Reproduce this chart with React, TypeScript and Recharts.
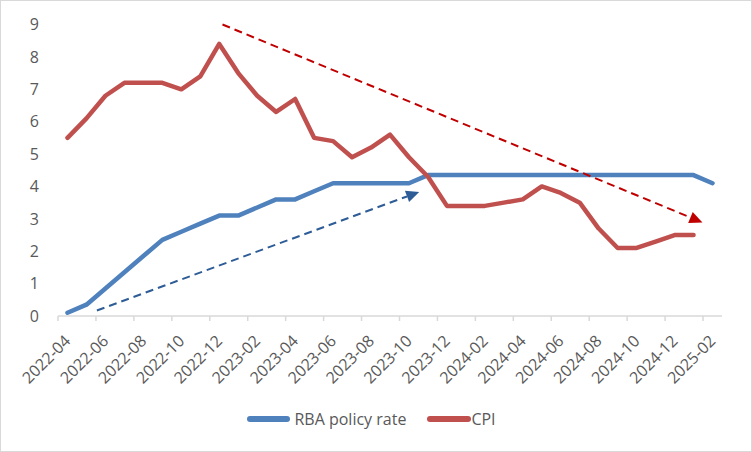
import React from 'react';
import { LineChart, Line, XAxis, YAxis, ReferenceLine, Legend } from 'recharts';

const months = [
  '2022-04', '2022-05', '2022-06', '2022-07', '2022-08', '2022-09', '2022-10', '2022-11', '2022-12',
  '2023-01', '2023-02', '2023-03', '2023-04', '2023-05', '2023-06', '2023-07', '2023-08', '2023-09',
  '2023-10', '2023-11', '2023-12', '2024-01', '2024-02', '2024-03', '2024-04', '2024-05', '2024-06',
  '2024-07', '2024-08', '2024-09', '2024-10', '2024-11', '2024-12', '2025-01', '2025-02',
];

const rbaRate = [
  0.1, 0.35, 0.85, 1.35, 1.85, 2.35, 2.6, 2.85, 3.1,
  3.1, 3.35, 3.6, 3.6, 3.85, 4.1, 4.1, 4.1, 4.1,
  4.1, 4.35, 4.35, 4.35, 4.35, 4.35, 4.35, 4.35, 4.35,
  4.35, 4.35, 4.35, 4.35, 4.35, 4.35, 4.35, 4.1,
];

const cpi = [
  5.5, 6.1, 6.8, 7.2, 7.2, 7.2, 7.0, 7.4, 8.4,
  7.5, 6.8, 6.3, 6.7, 5.5, 5.4, 4.9, 5.2, 5.6,
  4.9, 4.3, 3.4, 3.4, 3.4, 3.5, 3.6, 4.0, 3.8,
  3.5, 2.7, 2.1, 2.1, 2.3, 2.5, 2.5, null,
];

const labelTicks = [0, 2, 4, 6, 8, 10, 12, 14, 16, 18, 20, 22, 24, 26, 28, 30, 32, 34];
const boundaryTicks = [-0.5, 1.5, 3.5, 5.5, 7.5, 9.5, 11.5, 13.5, 15.5, 17.5, 19.5, 21.5, 23.5, 25.5, 27.5, 29.5, 31.5, 33.5];
const yTicks = [0, 1, 2, 3, 4, 5, 6, 7, 8, 9];

const cpiTrend = [{ x: 8.17, y: 9.0 }, { x: 33.47, y: 2.89 }];
const rateTrend = [{ x: 1.55, y: 0.17 }, { x: 18.54, y: 3.83 }];

const data = months.map((m, i) => ({ idx: i, month: m, rba: rbaRate[i], cpi: cpi[i] }));

const FONT = '"Open Sans", sans-serif';
const TEXT = '#595959';
const BLUE = '#4F81BD';
const RED = '#C0504D';

const XLabel = (props: any) => {
  const { x, y, payload } = props;
  return (
    <g transform={`translate(${x},${y + 21})`}>
      <text x={0} y={0} dy="0.36em" textAnchor="end" transform="rotate(-45)" fill={TEXT} fontSize={16} fontFamily={FONT}>
        {months[payload.value]}
      </text>
    </g>
  );
};

const NoTick = () => <g />;

const arrowShape = (color: string) => (p: any) => {
  const { x1, y1, x2, y2 } = p;
  if ([x1, y1, x2, y2].some((v) => v == null || isNaN(v))) return null;
  const dx = x2 - x1;
  const dy = y2 - y1;
  const len = Math.sqrt(dx * dx + dy * dy);
  const ux = dx / len;
  const uy = dy / len;
  const L = 13;
  const W = 6;
  const bx = x2 - ux * L;
  const by = y2 - uy * L;
  const pts = `${x2},${y2} ${bx - uy * W},${by + ux * W} ${bx + uy * W},${by - ux * W}`;
  return (
    <g>
      <line x1={x1} y1={y1} x2={bx} y2={by} stroke={color} strokeWidth={2} strokeDasharray="8 5" />
      <polygon points={pts} fill={color} />
    </g>
  );
};

const LegendContent = () => (
  <div style={{ display: 'flex', justifyContent: 'center', alignItems: 'center', height: 30, paddingLeft: 20, fontFamily: FONT, fontSize: 16, color: TEXT }}>
    <div style={{ width: 43, height: 6, borderRadius: 3, background: BLUE, marginRight: 4 }} />
    <span>RBA policy rate</span>
    <div style={{ width: 44, height: 6, borderRadius: 3, background: RED, marginLeft: 21 }} />
    <span>CPI</span>
  </div>
);

export default function App() {
  return (
    <div style={{ width: 752, height: 452, boxSizing: 'border-box', border: '1px solid #d9d9d9', background: '#fff', position: 'relative' }}>
      <style>{'body{margin:0}'}</style>
      <LineChart width={750} height={450} data={data} margin={{ top: 23.5, right: 29, bottom: 17, left: 0 }}>
        <XAxis
          xAxisId="axisA"
          dataKey="idx"
          type="number"
          domain={[-0.5, 34.5]}
          ticks={boundaryTicks}
          interval={0}
          tick={<NoTick />}
          height={1}
          tickSize={5}
          axisLine={{ stroke: '#d9d9d9', strokeWidth: 1.5 }}
          tickLine={{ stroke: '#d9d9d9', strokeWidth: 1.5 }}
        />
        <XAxis
          xAxisId="axisB"
          dataKey="idx"
          type="number"
          domain={[-0.5, 34.5]}
          ticks={labelTicks}
          interval={0}
          tick={<XLabel />}
          height={87}
          tickSize={0}
          tickMargin={0}
          axisLine={false}
          tickLine={false}
        />
        <YAxis
          domain={[0, 9]}
          ticks={yTicks}
          interval={0}
          width={57}
          tickSize={0}
          tickMargin={19}
          axisLine={false}
          tickLine={false}
          tick={{ fill: TEXT, fontSize: 16, fontFamily: FONT }}
        />
        <Legend verticalAlign="bottom" height={30} content={<LegendContent />} />
        <Line xAxisId="axisB" dataKey="rba" stroke={BLUE} strokeWidth={4.5} dot={false} strokeLinecap="round" strokeLinejoin="round" isAnimationActive={false} />
        <Line xAxisId="axisB" dataKey="cpi" stroke={RED} strokeWidth={4.5} dot={false} strokeLinecap="round" strokeLinejoin="round" isAnimationActive={false} />
        <ReferenceLine xAxisId="axisB" segment={rateTrend} shape={arrowShape('#2E5C96')} ifOverflow="visible" />
        <ReferenceLine xAxisId="axisB" segment={cpiTrend} shape={arrowShape('#C00000')} ifOverflow="visible" />
      </LineChart>
    </div>
  );
}
